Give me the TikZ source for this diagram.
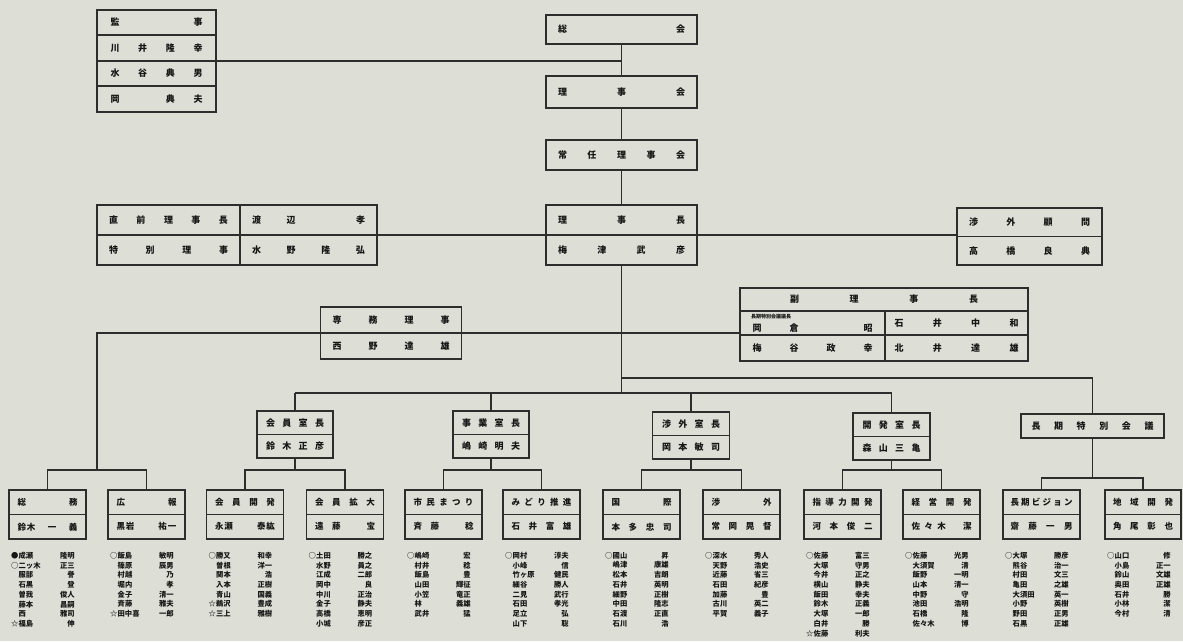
\documentclass[tikz,border=0pt]{standalone}
\usepackage{fontspec}
\setmainfont{Noto Sans CJK JP}
\usetikzlibrary{calc}
\definecolor{bg}{RGB}{221,222,214}
\definecolor{lc}{RGB}{45,45,45}
\definecolor{tc}{RGB}{22,22,22}
\newcommand{\spr}[2]{\makebox[#1][s]{#2}}
\newcommand{\ph}{\phantom{字}}
\newcommand{\mm}[3]{\makebox[7.5pt][l]{#1}\makebox[31pt][l]{#2}\makebox[25pt][r]{#3}}
\newcommand{\tbox}[8]{%
  \node[box, minimum width=#4pt, minimum height=#5pt, anchor=north] (#1) at (#2,#3) {};
  \draw[ln] (#1.west) -- (#1.east);
  \node[txt] (#1a) at ($(#1.north)!0.25!(#1.south)$) {\spr{#6pt}{#7}};
  \node[txt] (#1b) at ($(#1.north)!0.75!(#1.south)$) {\spr{#6pt}{#8}};
}
\tikzset{
  box/.style={draw=lc, line width=1.1pt, inner sep=0pt, outer sep=0pt},
  ln/.style={draw=lc, line width=1.1pt},
  txt/.style={inner sep=0pt, text=tc, font=\fontsize{9}{10}\selectfont\bfseries},
  smalltxt/.style={inner sep=0pt, text=tc, font=\fontsize{5}{6}\selectfont\bfseries},
  mem/.style={inner sep=0pt, text=tc, anchor=north west, align=left, font=\fontsize{7.3}{9.7}\selectfont\bfseries},
}
\begin{document}
\begin{tikzpicture}[x=1pt,y=-1pt]
\useasboundingbox (0,0) rectangle (1183,641);
\fill[bg] (0,0) rectangle (1183,641);

% ---- 監事 box (4 rows)
\node[box, minimum width=119pt, minimum height=102pt, anchor=north] (kanji) at (156.5,10) {};
\draw[ln] ($(kanji.north west)+(0,25)$) -- ($(kanji.north east)+(0,25)$);
\draw[ln] (kanji.west) -- (kanji.east);
\draw[ln] ($(kanji.north west)+(0,76)$) -- ($(kanji.north east)+(0,76)$);
\node[txt] (kanji1) at ($(kanji.north)+(0,12.5)$) {\spr{92pt}{監\hfill{}事}};
\node[txt] (kanji2) at ($(kanji.north)+(0,38)$) {\spr{92pt}{川\hfill{}井\hfill{}隆\hfill{}幸}};
\node[txt] (kanji3) at ($(kanji.north)+(0,63.5)$) {\spr{92pt}{水\hfill{}谷\hfill{}典\hfill{}男}};
\node[txt] (kanji4) at ($(kanji.north)+(0,89)$) {\spr{92pt}{岡\hfill{}\ph\hfill{}典\hfill{}夫}};

% ---- spine boxes
\node[box, minimum width=151pt, minimum height=29pt, anchor=north] (soukai) at (621.5,15) {};
\node[txt] (soukait) at (soukai) {\spr{127pt}{総\hfill{}会}};
\node[box, minimum width=151pt, minimum height=32pt, anchor=north] (rijikai) at (621.5,76) {};
\node[txt] (rijikait) at (rijikai) {\spr{127pt}{理\hfill{}事\hfill{}会}};
\node[box, minimum width=151pt, minimum height=30pt, anchor=north] (jounin) at (621.5,140) {};
\node[txt] (jounint) at (jounin) {\spr{127pt}{常\hfill{}任\hfill{}理\hfill{}事\hfill{}会}};
\tbox{rijicho}{621.5}{205}{151}{60}{127}{理\hfill{}事\hfill{}長}{梅\hfill{}津\hfill{}武\hfill{}彦}

% ---- 直前理事長 / 特別理事
\node[box, minimum width=280pt, minimum height=60pt, anchor=north] (chokuzen) at (237,205) {};
\draw[ln] (chokuzen.west) -- (chokuzen.east);
\draw[ln] ($(chokuzen.north west)+(143,0)$) -- ($(chokuzen.south west)+(143,0)$);
\node[txt] (chokuzen1) at ($(chokuzen.north west)+(71.5,15)$) {\spr{119pt}{直\hfill{}前\hfill{}理\hfill{}事\hfill{}長}};
\node[txt] (chokuzen2) at ($(chokuzen.north west)+(71.5,45)$) {\spr{119pt}{特\hfill{}別\hfill{}理\hfill{}事}};
\node[txt] (chokuzen3) at ($(chokuzen.north west)+(211.5,15)$) {\spr{113pt}{渡\hfill{}辺\hfill{}\ph\hfill{}孝}};
\node[txt] (chokuzen4) at ($(chokuzen.north west)+(211.5,45)$) {\spr{113pt}{水\hfill{}野\hfill{}隆\hfill{}弘}};

% ---- 渉外顧問
\tbox{komon}{1029.5}{208}{145}{57}{121}{渉\hfill{}外\hfill{}顧\hfill{}問}{高\hfill{}橋\hfill{}良\hfill{}典}

% ---- 専務理事
\tbox{senmu}{391}{307}{141}{52}{117}{専\hfill{}務\hfill{}理\hfill{}事}{西\hfill{}野\hfill{}達\hfill{}雄}

% ---- 副理事長 (3 rows)
\node[box, minimum width=288pt, minimum height=73pt, anchor=north] (fuku) at (884,288) {};
\draw[ln] ($(fuku.north west)+(0,23)$) -- ($(fuku.north east)+(0,23)$);
\draw[ln] ($(fuku.north west)+(0,47)$) -- ($(fuku.north east)+(0,47)$);
\draw[ln] ($(fuku.north west)+(145,23)$) -- ($(fuku.south west)+(145,0)$);
\node[txt] (fuku1) at ($(fuku.north)+(0,11.5)$) {\spr{188pt}{副\hfill{}理\hfill{}事\hfill{}長}};
\node[smalltxt, anchor=west] (fuku2s) at ($(fuku.north west)+(11,28.5)$) {長期特別会議議長};
\node[txt] (fuku2a) at ($(fuku.north west)+(72.5,40)$) {\spr{120pt}{岡\hfill{}倉\hfill{}\ph\hfill{}昭}};
\node[txt] (fuku2b) at ($(fuku.north west)+(216.5,35)$) {\spr{124pt}{石\hfill{}井\hfill{}中\hfill{}和}};
\node[txt] (fuku3a) at ($(fuku.north west)+(72.5,60)$) {\spr{120pt}{梅\hfill{}谷\hfill{}政\hfill{}幸}};
\node[txt] (fuku3b) at ($(fuku.north west)+(216.5,60)$) {\spr{124pt}{北\hfill{}井\hfill{}達\hfill{}雄}};

% ---- level 2
\tbox{kaiin}{295}{411}{76}{47}{58}{会\hfill{}員\hfill{}室\hfill{}長}{鈴\hfill{}木\hfill{}正\hfill{}彦}
\tbox{jigyo}{491}{411}{76}{47}{58}{事\hfill{}業\hfill{}室\hfill{}長}{嶋\hfill{}崎\hfill{}明\hfill{}夫}
\tbox{shogai}{691}{412}{77}{47}{58}{渉\hfill{}外\hfill{}室\hfill{}長}{岡\hfill{}本\hfill{}敏\hfill{}司}
\tbox{kaihatsu}{891.5}{413}{77}{47}{58}{開\hfill{}発\hfill{}室\hfill{}長}{森\hfill{}山\hfill{}三\hfill{}亀}
\node[box, minimum width=143pt, minimum height=24pt, anchor=north] (choki) at (1092.5,414) {};
\node[txt] (chokit) at (choki) {\spr{122pt}{長\hfill{}期\hfill{}特\hfill{}別\hfill{}会\hfill{}議}};

% ---- level 3
\begin{scope}[txt/.append style={font=\fontsize{8.5}{9.5}\selectfont\bfseries}]
\tbox{t1}{47.5}{490}{77}{49}{60}{総\hfill{}務}{鈴\hspace{1pt}木\hfill{}一\hfill{}義}
\tbox{t2}{146.5}{490}{77}{49}{60}{広\hfill{}報}{黒\hspace{1pt}岩\hfill{}祐\hspace{1pt}一}
\tbox{t3}{245}{490}{77}{49}{60}{会\hfill{}員\hfill{}開\hfill{}発}{永\hspace{1pt}瀬\hfill{}泰\hspace{1pt}紘}
\tbox{t4}{345}{490}{77}{49}{60}{会\hfill{}員\hfill{}拡\hfill{}大}{遠\hfill{}藤\hfill{}\ph\hfill{}宝}
\tbox{t5}{443.5}{490}{77}{49}{60}{市\hfill{}民\hfill{}ま\hfill{}つ\hfill{}り}{斉\hfill{}藤\hfill{}\ph\hfill{}稔}
\tbox{t6}{541.5}{490}{77}{49}{60}{み\hfill{}ど\hfill{}り\hfill{}推\hfill{}進}{石\hfill{}井\hfill{}富\hfill{}雄}
\tbox{t7}{641.5}{490}{77}{49}{60}{国\hfill{}際}{本\hfill{}多\hfill{}忠\hfill{}司}
\tbox{t8}{741.5}{490}{77}{49}{60}{渉\hfill{}外}{常\hfill{}岡\hfill{}晃\hfill{}督}
\tbox{t9}{842.5}{490}{77}{49}{60}{指\hfill{}導\hfill{}力\hfill{}開\hfill{}発}{河\hfill{}本\hfill{}俊\hfill{}二}
\tbox{t10}{941.5}{490}{77}{49}{60}{経\hfill{}営\hfill{}開\hfill{}発}{佐\hfill{}々\hfill{}木\hfill{}\ph\hfill{}潔}
\tbox{t11}{1041.5}{490}{77}{49}{62}{長\hfill{}期\hfill{}ビ\hfill{}ジ\hfill{}ョ\hfill{}ン}{齋\hfill{}藤\hfill{}一\hfill{}男}
\tbox{t12}{1143}{490}{76}{49}{60}{地\hfill{}域\hfill{}開\hfill{}発}{角\hfill{}尾\hfill{}彰\hfill{}也}
\end{scope}

% ---- connectors
\coordinate (B) at (621.5,393);
\coordinate (B2) at (621.5,378);
\coordinate (L0) at (97,470);
\coordinate (L1) at (0,470);
\coordinate (L2) at (0,478);
\draw[ln] (soukai.south) -- (rijikai.north);
\draw[ln] (rijikai.south) -- (jounin.north);
\draw[ln] (jounin.south) -- (rijicho.north);
\draw[ln] (rijicho.south) -- (B);
\draw[ln] (kanji.east) -- (kanji.east -| soukai.south);
\draw[ln] (chokuzen.east) -- (rijicho.west);
\draw[ln] (rijicho.east) -- (rijicho.east -| komon.west);
\draw[ln] (senmu.east) -- (senmu.east -| fuku.west);
\draw[ln] (senmu.west) -- (senmu.west -| L0) -- (L0);
\draw[ln] (t1.north) -- (t1.north |- L0) -- (t2.north |- L0) -- (t2.north);
\draw[ln] (B2) -- (B2 -| choki.north) -- (choki.north);
\draw[ln] (kaiin.north |- B) -- (kaihatsu.north |- B);
\foreach \n in {kaiin,jigyo,shogai,kaihatsu}{\draw[ln] (\n.north |- B) -- (\n.north);}
\draw[ln] (kaiin.south) -- (kaiin.south |- L1);
\draw[ln] (t3.north) -- (t3.north |- L1) -- (t4.north |- L1) -- (t4.north);
\draw[ln] (jigyo.south) -- (jigyo.south |- L1);
\draw[ln] (t5.north) -- (t5.north |- L1) -- (t6.north |- L1) -- (t6.north);
\draw[ln] (shogai.south) -- (shogai.south |- L1);
\draw[ln] (t7.north) -- (t7.north |- L1) -- (t8.north |- L1) -- (t8.north);
\draw[ln] (kaihatsu.south) -- (kaihatsu.south |- L1);
\draw[ln] (t9.north) -- (t9.north |- L1) -- (t10.north |- L1) -- (t10.north);
\draw[ln] (choki.south) -- (choki.south |- L2);
\draw[ln] (t11.north) -- (t11.north |- L2) -- (t12.north |- L2) -- (t12.north);

% ---- member lists
\node[mem] (m1) at ($(t1.south west)+(2,13)$) {\mm{●}{成瀬}{隆明}\\\mm{○}{二ッ木}{正三}\\\mm{}{服部}{譽}\\\mm{}{石黒}{登}\\\mm{}{曽我}{俊人}\\\mm{}{藤本}{昌嗣}\\\mm{}{西}{雅司}\\\mm{☆}{福島}{伸}};
\node[mem] (m2) at ($(t2.south west)+(2,13)$) {\mm{○}{飯島}{敏明}\\\mm{}{篠原}{辰男}\\\mm{}{村越}{乃}\\\mm{}{堀内}{孝}\\\mm{}{金子}{清一}\\\mm{}{斉藤}{雅夫}\\\mm{☆}{田中喜}{一郎}};
\node[mem] (m3) at ($(t3.south west)+(2,13)$) {\mm{○}{勝又}{和幸}\\\mm{}{曽根}{洋一}\\\mm{}{関本}{浩}\\\mm{}{入本}{正樹}\\\mm{}{青山}{国義}\\\mm{☆}{鵜沢}{豊成}\\\mm{☆}{三上}{雅樹}};
\node[mem] (m4) at ($(t4.south west)+(2,13)$) {\mm{○}{土田}{勝之}\\\mm{}{水野}{員之}\\\mm{}{江成}{二郎}\\\mm{}{岡中}{良}\\\mm{}{中川}{正治}\\\mm{}{金子}{静夫}\\\mm{}{高橋}{恵明}\\\mm{}{小城}{彦正}};
\node[mem] (m5) at ($(t5.south west)+(2,13)$) {\mm{○}{嶋崎}{宏}\\\mm{}{村井}{稔}\\\mm{}{飯島}{豊}\\\mm{}{山田}{輝征}\\\mm{}{小笠}{竜正}\\\mm{}{林}{義雄}\\\mm{}{武井}{猛}};
\node[mem] (m6) at ($(t6.south west)+(2,13)$) {\mm{○}{岡村}{淳夫}\\\mm{}{小峰}{信}\\\mm{}{竹ヶ原}{健民}\\\mm{}{細谷}{勝人}\\\mm{}{二見}{武行}\\\mm{}{石田}{孝光}\\\mm{}{足立}{弘}\\\mm{}{山下}{聡}};
\node[mem] (m7) at ($(t7.south west)+(2,13)$) {\mm{○}{國山}{昇}\\\mm{}{嶋津}{康雄}\\\mm{}{松本}{吉朗}\\\mm{}{石井}{英明}\\\mm{}{細野}{正樹}\\\mm{}{中田}{隆志}\\\mm{}{石渡}{正直}\\\mm{}{石川}{浩}};
\node[mem] (m8) at ($(t8.south west)+(2,13)$) {\mm{○}{深水}{秀人}\\\mm{}{天野}{浩史}\\\mm{}{近藤}{省三}\\\mm{}{石田}{紀彦}\\\mm{}{加藤}{豊}\\\mm{}{古川}{英二}\\\mm{}{平賀}{義子}};
\node[mem] (m9) at ($(t9.south west)+(2,13)$) {\mm{○}{佐藤}{富三}\\\mm{}{大塚}{守男}\\\mm{}{今井}{正之}\\\mm{}{横山}{静夫}\\\mm{}{飯田}{幸夫}\\\mm{}{鈴木}{正義}\\\mm{}{大塚}{一郎}\\\mm{}{白井}{勝}\\\mm{☆}{佐藤}{利夫}};
\node[mem] (m10) at ($(t10.south west)+(2,13)$) {\mm{○}{佐藤}{光男}\\\mm{}{大須賀}{清}\\\mm{}{飯野}{一明}\\\mm{}{山本}{清一}\\\mm{}{中野}{守}\\\mm{}{池田}{浩明}\\\mm{}{石橋}{隆}\\\mm{}{佐々木}{博}};
\node[mem] (m11) at ($(t11.south west)+(2,13)$) {\mm{○}{大塚}{勝彦}\\\mm{}{熊谷}{治一}\\\mm{}{村田}{文三}\\\mm{}{亀田}{之雄}\\\mm{}{大須田}{英一}\\\mm{}{小野}{英樹}\\\mm{}{野田}{正男}\\\mm{}{石黒}{正雄}};
\node[mem] (m12) at ($(t12.south west)+(2,13)$) {\mm{○}{山口}{修}\\\mm{}{小島}{正一}\\\mm{}{鈴山}{文雄}\\\mm{}{奥田}{正雄}\\\mm{}{石井}{勝}\\\mm{}{小林}{潔}\\\mm{}{今村}{清}};
\end{tikzpicture}
\end{document}
